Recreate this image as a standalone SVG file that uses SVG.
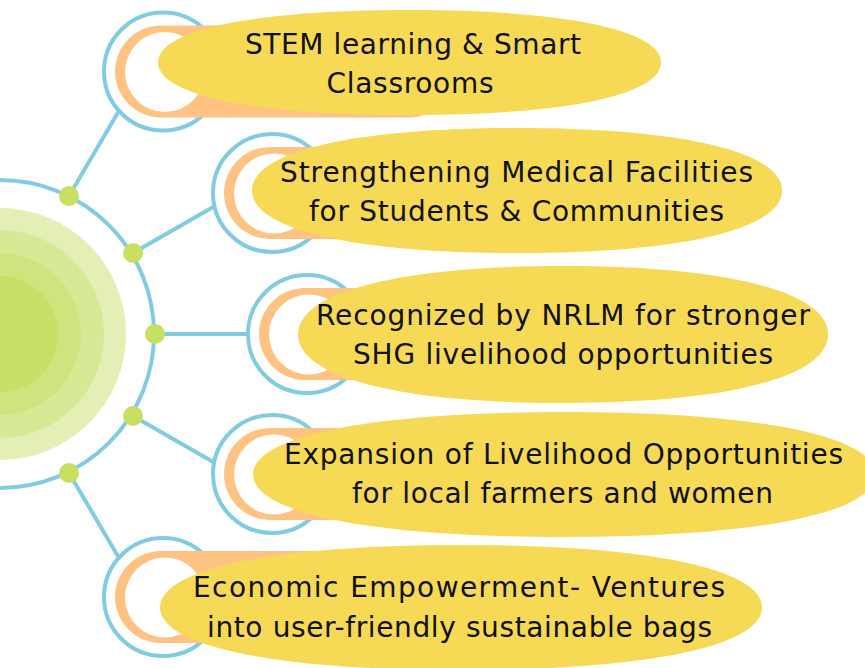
<svg xmlns="http://www.w3.org/2000/svg" width="865" height="668" viewBox="0 0 865 668">
<defs>
<style>
.ring{fill:#fff;stroke:#82cce2;stroke-width:4}
.pill{fill:#fec283}
.hole{fill:#fff}
.blob{fill:#f6d954}
.lbl{font-family:"DejaVu Sans","Liberation Sans",sans-serif;font-size:28px;fill:#111;text-anchor:middle}
.con{stroke:#82cce2;stroke-width:4;fill:none}
.dot{fill:#c8e061}
</style>
</defs>
<rect width="865" height="668" fill="#fff"/>
<g id="hub">
<circle cx="0" cy="334" r="126" fill="#e3efb5"/>
<circle cx="0" cy="334" r="104" fill="#d8e996"/>
<circle cx="0" cy="334" r="81" fill="#cfe47d"/>
<circle cx="0" cy="334" r="58" fill="#c8e065"/>
</g>
<g id="connectors">
<circle class="con" cx="0" cy="334" r="154"/>
<line class="con" x1="69" y1="196" x2="120" y2="109"/>
<line class="con" x1="133" y1="253" x2="215" y2="206"/>
<line class="con" x1="155" y1="334" x2="250" y2="334"/>
<line class="con" x1="133" y1="416" x2="215" y2="463"/>
<line class="con" x1="69" y1="473" x2="119" y2="558"/>
<circle class="dot" cx="69" cy="196" r="10"/>
<circle class="dot" cx="133" cy="253" r="10"/>
<circle class="dot" cx="155" cy="334" r="10"/>
<circle class="dot" cx="133" cy="416" r="10"/>
<circle class="dot" cx="69" cy="473" r="10"/>
</g>
<g id="node1">
<circle class="ring" cx="163" cy="71.5" r="59"/>
<rect class="pill" x="115" y="25.5" width="340" height="92" rx="46"/>
<circle class="hole" cx="165" cy="72" r="40"/>
<path class="blob" d="M158,62.5 C158,29.95 253.6,10 409.5,10 C565.4,10 661,29.95 661,62.5 C661,95.05 565.4,115 409.5,115 C253.6,115 158,95.05 158,62.5Z"/>
<text class="lbl" x="413" y="54" textLength="336">STEM learning &amp; Smart</text>
<text class="lbl" x="410" y="93" textLength="167">Classrooms</text>
</g>
<g id="node2">
<circle class="ring" cx="272" cy="193" r="59"/>
<rect class="pill" x="224" y="147" width="340" height="92" rx="46"/>
<circle class="hole" cx="274" cy="193.5" r="40"/>
<path class="blob" d="M252,190.5 C252,151.75 352.7,128 517,128 C681.3,128 782,151.75 782,190.5 C782,229.25 681.3,253 517,253 C352.7,253 252,229.25 252,190.5Z"/>
<text class="lbl" x="516.5" y="182" textLength="473">Strengthening Medical Facilities</text>
<text class="lbl" x="516.5" y="221" textLength="415">for Students &amp; Communities</text>
</g>
<g id="node3">
<circle class="ring" cx="307" cy="334" r="59"/>
<rect class="pill" x="259" y="288" width="340" height="92" rx="46"/>
<circle class="hole" cx="309" cy="334.5" r="40"/>
<path class="blob" d="M298,334.5 C298,292 398.7,266 563,266 C727.3,266 828,292 828,334.5 C828,377 727.3,403 563,403 C398.7,403 298,377 298,334.5Z"/>
<text class="lbl" x="563" y="325" textLength="494">Recognized by NRLM for stronger</text>
<text class="lbl" x="563" y="364" textLength="420">SHG livelihood opportunities</text>
</g>
<g id="node4">
<circle class="ring" cx="272" cy="474" r="59"/>
<rect class="pill" x="224" y="428" width="340" height="92" rx="46"/>
<circle class="hole" cx="274" cy="474.5" r="40"/>
<path class="blob" d="M253,474.5 C253,435.75 371.2,412 564,412 C756.8,412 875,435.75 875,474.5 C875,513.25 756.8,537 564,537 C371.2,537 253,513.25 253,474.5Z"/>
<text class="lbl" x="563.5" y="464" textLength="559">Expansion of Livelihood Opportunities</text>
<text class="lbl" x="562.5" y="503" textLength="421">for local farmers and women</text>
</g>
<g id="node5">
<circle class="ring" cx="163" cy="597" r="59"/>
<rect class="pill" x="115" y="551" width="340" height="92" rx="46"/>
<circle class="hole" cx="165" cy="597.5" r="40"/>
<path class="blob" d="M160,607.5 C160,568.75 274.4,545 461,545 C647.6,545 762,568.75 762,607.5 C762,646.25 647.6,670 461,670 C274.4,670 160,646.25 160,607.5Z"/>
<text class="lbl" x="459" y="597" textLength="532">Economic Empowerment- Ventures</text>
<text class="lbl" x="459.5" y="637" textLength="505">into user-friendly sustainable bags</text>
</g>
</svg>
